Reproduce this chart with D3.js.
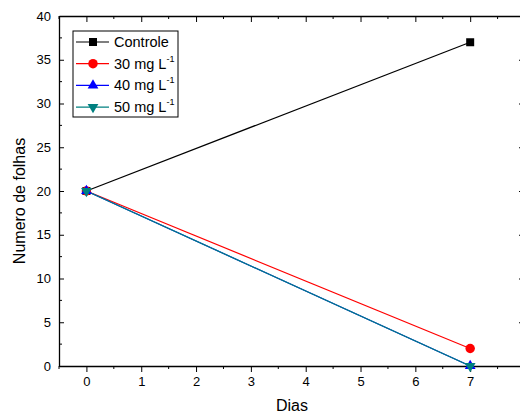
<!DOCTYPE html>
<html>
<head>
<meta charset="utf-8">
<script src="https://cdn.jsdelivr.net/npm/d3@7/dist/d3.min.js"></script>
<style>
  body { margin: 0; background: #fff; }
  svg { font-family: "Liberation Sans", Arial, sans-serif; display: block; }
  .tl { font-size: 13px; fill: #000; }
  .axisLb { font-size: 16px; fill: #000; }
  .lg { font-size: 14.5px; fill: #000; }
</style>
</head>
<body>
<div id="main"></div>
<script>
// data
var days = [0, 7];
var seriesNames = ["Controle", "30 mg L", "40 mg L", "50 mg L"];
var controle = [20, 37];
var mg30 = [20, 2];
var mg40 = [20, 0];
var mg50 = [20, 0];
var xTicks = [0, 1, 2, 3, 4, 5, 6, 7];
var yTicks = [0, 5, 10, 15, 20, 25, 30, 35, 40];

var ctx = { w: 520, h: 414, left: 59, right: 525, top: 16, bottom: 366 };

var series = [
  { name: seriesNames[0], vals: controle, color: "#000000", sup: false, sym: "square" },
  { name: seriesNames[1], vals: mg30, color: "#ff0000", sup: true, sym: "circle" },
  { name: seriesNames[2], vals: mg40, color: "#0000ff", sup: true, sym: "tri" },
  { name: seriesNames[3], vals: mg50, color: "#008080", sup: true, sym: "tridown" }
];

var svg = d3.select("#main").append("svg")
  .attr("width", ctx.w).attr("height", ctx.h);

var x = d3.scaleLinear().domain([-0.5, 8]).range([ctx.left, ctx.right]);
var y = d3.scaleLinear().domain([0, 40]).range([ctx.bottom, ctx.top]);

var minorX = d3.range(-0.5, 8.01, 0.5).filter(function(v){ return v % 1 !== 0; });
var minorY = d3.range(2.5, 40, 5);

// bottom axis (ticks outward)
var bx = svg.append("g").attr("transform", "translate(0," + ctx.bottom + ")");
bx.call(d3.axisBottom(x).tickValues(xTicks).tickSizeInner(6).tickSizeOuter(0).tickPadding(5))
  .call(function(g){ g.select(".domain").attr("stroke-width", 1.3); });
bx.selectAll(".tick text").attr("class", "tl").style("font-size", null);
bx.attr("font-family", null).attr("font-size", null);
bx.selectAll(".minor").data(minorX).enter().append("line")
  .attr("x1", function(d){ return x(d); }).attr("x2", function(d){ return x(d); })
  .attr("y1", 0).attr("y2", 3).attr("stroke", "#000");

// top axis (ticks inward, no labels)
var tx = svg.append("g").attr("transform", "translate(0," + ctx.top + ")");
tx.call(d3.axisBottom(x).tickValues(xTicks).tickSizeInner(6).tickSizeOuter(0).tickFormat(""))
  .call(function(g){ g.select(".domain").attr("stroke-width", 1.3); });
tx.selectAll(".minor").data(minorX).enter().append("line")
  .attr("x1", function(d){ return x(d); }).attr("x2", function(d){ return x(d); })
  .attr("y1", 0).attr("y2", 3).attr("stroke", "#000");

// left axis (ticks inward)
var ly = svg.append("g").attr("transform", "translate(" + ctx.left + ",0)");
ly.call(d3.axisRight(y).tickValues(yTicks).tickSizeInner(5).tickSizeOuter(0).tickFormat(""))
  .call(function(g){ g.select(".domain").attr("stroke-width", 1.3); });
ly.selectAll(".minor").data(minorY).enter().append("line")
  .attr("y1", function(d){ return y(d); }).attr("y2", function(d){ return y(d); })
  .attr("x1", 0).attr("x2", 3).attr("stroke", "#000");
ly.selectAll(".lbl").data(yTicks).enter().append("text")
  .attr("class", "tl")
  .attr("x", -8).attr("y", function(d){ return y(d); })
  .attr("dy", "0.35em").attr("text-anchor", "end")
  .text(function(d){ return d; });

// right axis (off the edge, ticks inward visible)
var ry = svg.append("g").attr("transform", "translate(" + ctx.right + ",0)");
ry.call(d3.axisLeft(y).tickValues(yTicks).tickSizeInner(6).tickSizeOuter(0).tickFormat(""))
  .call(function(g){ g.select(".domain").attr("stroke-width", 1.3); });
ry.selectAll(".minor").data(minorY).enter().append("line")
  .attr("y1", function(d){ return y(d); }).attr("y2", function(d){ return y(d); })
  .attr("x1", 0).attr("x2", -3).attr("stroke", "#000");

// axis labels
svg.append("text").attr("class", "axisLb")
  .attr("x", 292).attr("y", 411)
  .attr("text-anchor", "middle").text("Dias");
svg.append("text").attr("class", "axisLb")
  .attr("transform", "translate(25,201) rotate(-90)")
  .attr("text-anchor", "middle").text("Numero de folhas");

// markers
var symbolFor = function(sym){
  if (sym === "square") return d3.symbol().type(d3.symbolSquare).size(64)();
  if (sym === "circle") return d3.symbol().type(d3.symbolCircle).size(70)();
  return d3.symbol().type(d3.symbolTriangle).size(50)();
};
var symbolTransform = function(sym, px, py){
  if (sym === "tridown") return "translate(" + px + "," + py + ") rotate(180)";
  return "translate(" + px + "," + py + ")";
};

var line = d3.line()
  .x(function(d){ return x(d[0]); })
  .y(function(d){ return y(d[1]); });

var plot = svg.append("g");
series.forEach(function(s){
  var pts = days.map(function(d, i){ return [d, s.vals[i]]; });
  plot.append("path").datum(pts)
    .attr("d", line).attr("fill", "none")
    .attr("stroke", s.color).attr("stroke-width", 1.2);
});
series.forEach(function(s){
  var pts = days.map(function(d, i){ return [d, s.vals[i]]; });
  plot.selectAll(null).data(pts).enter().append("path")
    .attr("d", symbolFor(s.sym))
    .attr("fill", s.color)
    .attr("transform", function(d){ return symbolTransform(s.sym, x(d[0]), y(d[1])); });
});

// legend
var lg = svg.append("g").attr("transform", "translate(73,31)");
lg.append("rect").attr("width", 105).attr("height", 86)
  .attr("fill", "#fff").attr("stroke", "#000").attr("stroke-width", 1);
series.forEach(function(s, i){
  var ry0 = 11 + i * 21.7;
  lg.append("line").attr("x1", 3).attr("x2", 36).attr("y1", ry0).attr("y2", ry0)
    .attr("stroke", s.color).attr("stroke-width", 1.2);
  lg.append("path").attr("d", symbolFor(s.sym)).attr("fill", s.color)
    .attr("transform", symbolTransform(s.sym, 20, ry0));
  var t = lg.append("text").attr("class", "lg").attr("x", 41).attr("y", ry0 + 5).text(s.name);
  if (s.sup) {
    t.append("tspan").attr("dy", -7).style("font-size", "9px").text("-1");
  }
});
</script>
</body>
</html>
